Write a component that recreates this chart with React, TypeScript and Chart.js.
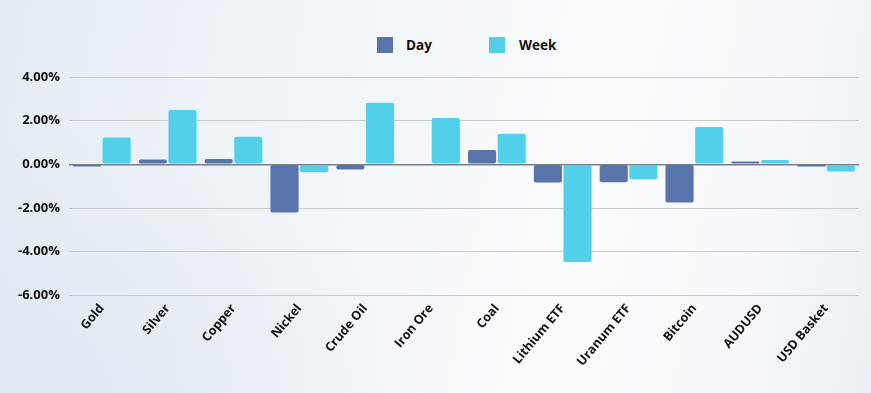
import React, { useEffect, useRef } from "react";
import { Chart, registerables } from "chart.js";

Chart.register(...registerables);

const categories = ["Gold", "Silver", "Copper", "Nickel", "Crude Oil", "Iron Ore", "Coal", "Lithium ETF", "Uranum ETF", "Bitcoin", "AUDUSD", "USD Basket"];
const dayValues = [-0.1, 0.22, 0.24, -2.2, -0.24, -0.02, 0.66, -0.83, -0.82, -1.75, 0.13, -0.1];
const weekValues = [1.23, 2.49, 1.26, -0.36, 2.82, 2.12, 1.4, -4.47, -0.68, 1.71, 0.2, -0.33];
const seriesNames = ["Day", "Week"];
const seriesColors = ["#5874AB", "#52D0EA"];
const yMin = -6;
const yMax = 4;
const yStep = 2;

const FONT = "'Open Sans', Inter, sans-serif";

export default function App() {
  const ref = useRef<HTMLCanvasElement | null>(null);

  useEffect(() => {
    if (!ref.current) return;
    const chart = new Chart(ref.current, {
      type: "bar",
      data: {
        labels: categories,
        datasets: [
          { label: seriesNames[0], data: dayValues, backgroundColor: seriesColors[0], borderRadius: 2, borderSkipped: false },
          { label: seriesNames[1], data: weekValues, backgroundColor: seriesColors[1], borderRadius: 2, borderSkipped: false },
        ],
      },
      options: {
        animation: false,
        responsive: false,
        maintainAspectRatio: false,
        layout: { padding: { top: 77, right: 12, bottom: 18, left: 9 } },
        datasets: { bar: { categoryPercentage: 0.9, barPercentage: 0.95 } },
        plugins: {
          legend: { display: false },
          tooltip: { enabled: false },
        },
        scales: {
          x: {
            grid: { display: false, drawTicks: false },
            border: { display: false },
            ticks: {
              color: "#111",
              font: { family: FONT, size: 12.5, weight: "bold" },
              minRotation: 50,
              maxRotation: 50,
              autoSkip: false,
              padding: 6,
            },
          },
          y: {
            min: yMin,
            max: yMax,
            border: { display: false },
            grid: {
              drawTicks: false,
              color: (ctx: any) => (ctx.tick && ctx.tick.value === 0 ? "#7a7f86" : "#c9cbce"),
              lineWidth: (ctx: any) => (ctx.tick && ctx.tick.value === 0 ? 1.5 : 1),
            },
            ticks: {
              stepSize: yStep,
              color: "#111",
              padding: 9,
              font: { family: FONT, size: 13, weight: "bold" },
              callback: (v: any) => Number(v).toFixed(2) + "%",
            },
          },
        },
      },
    });
    return () => chart.destroy();
  }, []);

  return (
    <div
      style={{
        position: "absolute",
        left: 0,
        top: 0,
        width: 871,
        height: 393,
        overflow: "hidden",
        background:
          "radial-gradient(ellipse 420px 260px at 0% 100%, #dfe8f1 0%, rgba(223,232,241,0) 100%), linear-gradient(100deg, #e4ecf4 0%, #f1f5f9 35%, #fafbfd 65%, #f6f8fb 85%, #eaf0f5 100%)",
      }}
    >
      <div
        style={{
          position: "absolute",
          top: 36,
          left: 377,
          display: "flex",
          alignItems: "center",
          fontFamily: FONT,
          fontWeight: 700,
          fontSize: 13.5,
          color: "#111",
        }}
      >
        <span style={{ width: 16, height: 16, background: seriesColors[0], display: "inline-block" }} />
        <span style={{ marginLeft: 13, width: 83 }}>{seriesNames[0]}</span>
        <span style={{ width: 16, height: 16, background: seriesColors[1], display: "inline-block" }} />
        <span style={{ marginLeft: 14 }}>{seriesNames[1]}</span>
      </div>
      <canvas ref={ref} width={871} height={393} style={{ position: "absolute", left: 0, top: 0 }} />
    </div>
  );
}
